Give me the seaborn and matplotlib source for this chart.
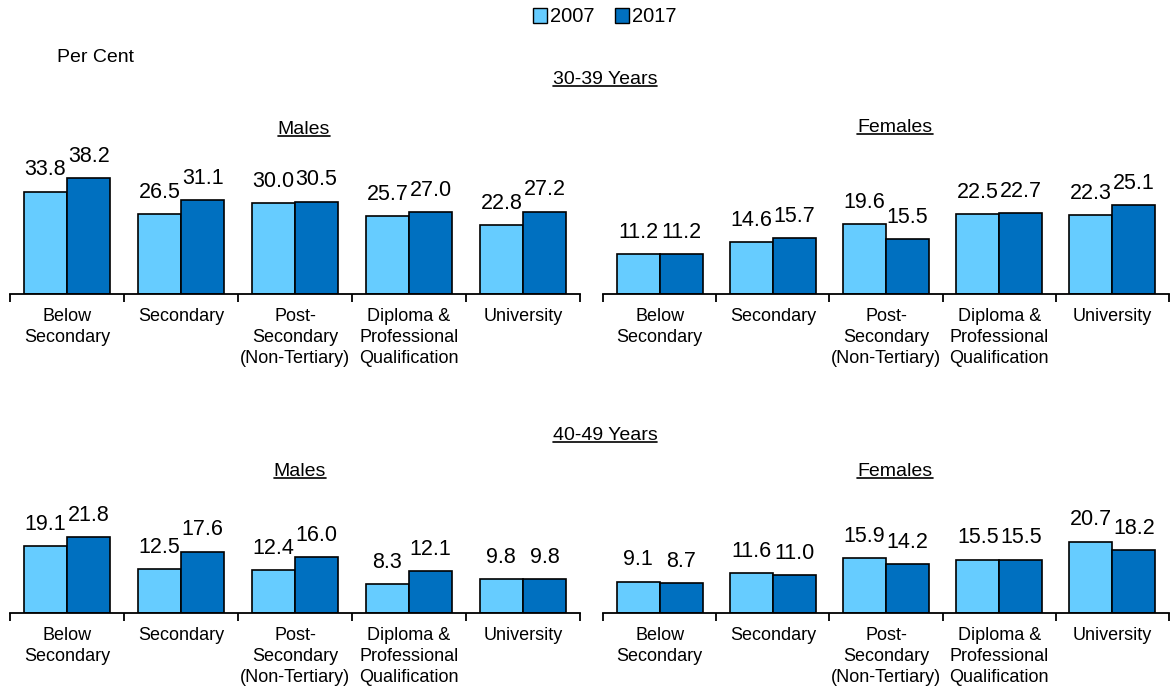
import matplotlib
matplotlib.use("Agg")
import matplotlib.pyplot as plt
import seaborn as sns
import pandas as pd
from matplotlib.lines import Line2D
from matplotlib.ticker import FixedLocator

# Datos
niveles = ["Below\nSecondary", "Secondary", "Post-\nSecondary\n(Non-Tertiary)",
           "Diploma &\nProfessional\nQualification", "University"]
anios = ["2007", "2017"]

hombres_30_2007 = [33.8, 26.5, 30.0, 25.7, 22.8]
hombres_30_2017 = [38.2, 31.1, 30.5, 27.0, 27.2]
mujeres_30_2007 = [11.2, 14.6, 19.6, 22.5, 22.3]
mujeres_30_2017 = [11.2, 15.7, 15.5, 22.7, 25.1]
hombres_40_2007 = [19.1, 12.5, 12.4, 8.3, 9.8]
hombres_40_2017 = [21.8, 17.6, 16.0, 12.1, 9.8]
mujeres_40_2007 = [9.1, 11.6, 15.9, 15.5, 20.7]
mujeres_40_2017 = [8.7, 11.0, 14.2, 15.5, 18.2]

colores = ["#66CCFF", "#0070C0"]

sns.set_style("white")
plt.rcParams["font.family"] = ["Liberation Sans", "DejaVu Sans"]
plt.rcParams["text.color"] = "black"
plt.rcParams["xtick.color"] = "black"


def armar_df(v2007, v2017):
    return pd.DataFrame({
        "nivel": niveles * 2,
        "anio": [anios[0]] * 5 + [anios[1]] * 5,
        "valor": v2007 + v2017,
    })


fig = plt.figure(figsize=(11.7, 6.9), dpi=100)
W, H = 1170, 690


def crear_eje(x0, x1, base, tope):
    # coordenadas en pixeles -> fraccion de figura
    return fig.add_axes([x0 / W, (H - base) / H, (x1 - x0) / W, (base - tope) / H])


paneles = [
    (crear_eje(10, 580, 294, 140), hombres_30_2007, hombres_30_2017, 154 / 3.03),
    (crear_eje(603, 1169, 294, 140), mujeres_30_2007, mujeres_30_2017, 154 / 3.56),
    (crear_eje(10, 580, 613, 490), hombres_40_2007, hombres_40_2017, 123 / 3.49),
    (crear_eje(603, 1169, 613, 490), mujeres_40_2007, mujeres_40_2017, 123 / 3.45),
]

for ax, v1, v2, ymax in paneles:
    df = armar_df(v1, v2)
    sns.barplot(data=df, x="nivel", y="valor", hue="anio", palette=colores, saturation=1,
                edgecolor="black", linewidth=1.2, width=0.76, ax=ax, legend=False)
    for cont in ax.containers:
        ax.bar_label(cont, fmt="%.1f", padding=8, fontsize=15.5, color="black")
    ax.set_ylim(0, ymax)
    ax.set_xlim(-0.5, 4.5)
    ax.set_xlabel("")
    ax.set_ylabel("")
    ax.set_yticks([])
    for lado in ["top", "right", "left"]:
        ax.spines[lado].set_visible(False)
    ax.spines["bottom"].set_linewidth(1.3)
    ax.spines["bottom"].set_color("black")
    ax.tick_params(axis="x", which="major", length=0, pad=10, labelsize=13, labelcolor="black")
    ax.xaxis.set_minor_locator(FixedLocator([-0.5, 0.5, 1.5, 2.5, 3.5, 4.5]))
    ax.tick_params(axis="x", which="minor", length=6, width=1.3, color="black",
                   direction="out", bottom=True)
    for t in ax.get_xticklabels():
        t.set_verticalalignment("top")
        t.set_linespacing(1.3)

# Leyenda
manijas = [plt.Rectangle((0, 0), 1, 1, facecolor=c, edgecolor="black", linewidth=1) for c in colores]
fig.legend(manijas, anios, loc="center", bbox_to_anchor=(605 / W, 1 - 17 / H), ncol=2,
           frameon=False, fontsize=14.5, handlelength=0.7, handleheight=0.7,
           handletextpad=0.15, columnspacing=1.0)

fig.text(57 / W, 1 - 57 / H, "Per Cent", fontsize=14, ha="left", va="center")

titulos = [
    (605, 79, "30-39 Years"),
    (304, 129, "Males"),
    (895, 127, "Females"),
    (605, 435, "40-49 Years"),
    (300, 472, "Males"),
    (895, 472, "Females"),
]
textos = []
for x, y, s in titulos:
    textos.append(fig.text(x / W, 1 - y / H, s, fontsize=14, ha="center", va="center"))

# Subrayado de titulos
fig.canvas.draw()
rend = fig.canvas.get_renderer()
for t in textos:
    bb = t.get_window_extent(renderer=rend).transformed(fig.transFigure.inverted())
    yl = bb.y0 + 2 / H
    fig.add_artist(Line2D([bb.x0, bb.x1], [yl, yl], color="black", linewidth=1.2,
                          transform=fig.transFigure))

fig.savefig("out.png", dpi=100)
